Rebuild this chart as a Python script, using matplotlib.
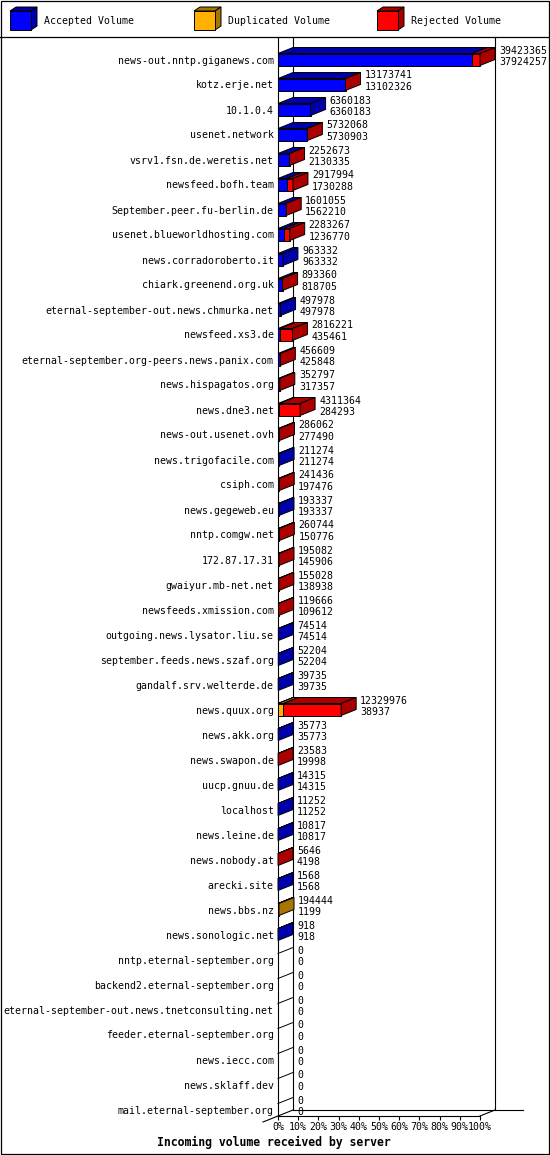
import matplotlib
matplotlib.use('Agg')
import matplotlib.pyplot as plt
from matplotlib.patches import Polygon
import numpy as np

plt.rcParams['font.family'] = 'DejaVu Sans Mono'
plt.rcParams['font.size'] = 7.15

# server names, top to bottom
servers = [
    'news-out.nntp.giganews.com', 'kotz.erje.net', '10.1.0.4', 'usenet.network',
    'vsrv1.fsn.de.weretis.net', 'newsfeed.bofh.team', 'September.peer.fu-berlin.de',
    'usenet.blueworldhosting.com', 'news.corradoroberto.it', 'chiark.greenend.org.uk',
    'eternal-september-out.news.chmurka.net', 'newsfeed.xs3.de',
    'eternal-september.org-peers.news.panix.com', 'news.hispagatos.org', 'news.dne3.net',
    'news-out.usenet.ovh', 'news.trigofacile.com', 'csiph.com', 'news.gegeweb.eu',
    'nntp.comgw.net', '172.87.17.31', 'gwaiyur.mb-net.net', 'newsfeeds.xmission.com',
    'outgoing.news.lysator.liu.se', 'september.feeds.news.szaf.org',
    'gandalf.srv.welterde.de', 'news.quux.org', 'news.akk.org', 'news.swapon.de',
    'uucp.gnuu.de', 'localhost', 'news.leine.de', 'news.nobody.at', 'arecki.site',
    'news.bbs.nz', 'news.sonologic.net', 'nntp.eternal-september.org',
    'backend2.eternal-september.org', 'eternal-september-out.news.tnetconsulting.net',
    'feeder.eternal-september.org', 'news.iecc.com', 'news.sklaff.dev',
    'mail.eternal-september.org',
]
# total offered volume (upper number)
total = [
    39423365, 13173741, 6360183, 5732068, 2252673, 2917994, 1601055, 2283267,
    963332, 893360, 497978, 2816221, 456609, 352797, 4311364, 286062, 211274,
    241436, 193337, 260744, 195082, 155028, 119666, 74514, 52204, 39735,
    12329976, 35773, 23583, 14315, 11252, 10817, 5646, 1568, 194444, 918,
    0, 0, 0, 0, 0, 0, 0,
]
# accepted volume (lower number)
accepted = [
    37924257, 13102326, 6360183, 5730903, 2130335, 1730288, 1562210, 1236770,
    963332, 818705, 497978, 435461, 425848, 317357, 284293, 277490, 211274,
    197476, 193337, 150776, 145906, 138938, 109612, 74514, 52204, 39735,
    38937, 35773, 19998, 14315, 11252, 10817, 4198, 1568, 1199, 918,
    0, 0, 0, 0, 0, 0, 0,
]
# duplicated volume
duplicated = [
    0, 0, 0, 0, 0, 0, 0, 0, 0, 0, 0, 0, 0, 0, 0, 0, 0, 0, 0, 0, 0, 0, 0, 0, 0, 0,
    980000, 0, 0, 0, 0, 0, 0, 0, 193245, 0,
    0, 0, 0, 0, 0, 0, 0,
]
rejected = [t - a - d for t, a, d in zip(total, accepted, duplicated)]

pct_labels = ['%d%%' % p for p in range(0, 101, 10)]

front = {'acc': '#0000ff', 'dup': '#ffb000', 'rej': '#ff0000'}
dark = {'acc': '#0000aa', 'dup': '#aa7400', 'rej': '#aa0000'}

W, H = 550, 1155
fig = plt.figure(figsize=(W / 100, H / 100), dpi=100)
fig.patch.set_facecolor('white')

# overlay in pixel coordinates for frame, legend and title
ov = fig.add_axes([0, 0, 1, 1])
ov.set_xlim(0, W)
ov.set_ylim(H, 0)
ov.axis('off')
ov.add_patch(plt.Rectangle((0.5, 0.5), W - 1.5, H - 1.5, fill=False, ec='black', lw=0.9))
ov.plot([0, W], [36.5, 36.5], color='black', lw=0.9)

legend = [('acc', 'Accepted Volume', 10), ('dup', 'Duplicated Volume', 194), ('rej', 'Rejected Volume', 377)]
for key, txt, x0 in legend:
    ov.add_patch(Polygon([(x0, 11), (x0 + 21, 11), (x0 + 27, 7), (x0 + 6, 7)],
                         closed=True, fc=dark[key], ec='black', lw=0.7))
    ov.add_patch(Polygon([(x0 + 21, 11), (x0 + 21, 30), (x0 + 27, 26), (x0 + 27, 7)],
                         closed=True, fc=dark[key], ec='black', lw=0.7))
    ov.add_patch(plt.Rectangle((x0, 11), 21, 19, fc=front[key], ec='black', lw=0.7))
    ov.text(x0 + 34, 20.5, txt, ha='left', va='center')

ov.text(274, 1142, 'Incoming volume received by server', ha='center', va='center',
        fontweight='bold', fontsize=8.3)

# main chart
vmax = max(total)
px_x = vmax / 202.0      # data units per pixel along x
row = 25.0               # pixels per row
y_top = (37 - 59.5) / row
y_floor = (1116 - 59.5) / row
DX = 15 * px_x
DY = 6 / row
h = 12 / row

ax = fig.add_axes([278 / W, 1 - 1116 / H, 202 / W, (1116 - 37) / H])
ax.set_facecolor('none')
ax.set_xlim(0, vmax)
ax.set_ylim(y_floor, y_top)
for s in ['top', 'right']:
    ax.spines[s].set_visible(False)
for s in ['left', 'bottom']:
    ax.spines[s].set_linewidth(0.8)
    ax.spines[s].set_zorder(1)

ax.set_xticks(np.linspace(0, vmax, 11))
ax.set_xticklabels(pct_labels)
ax.tick_params(axis='x', direction='out', length=3, width=0.8, pad=1.5, labelsize=7.15)
ax.set_yticks(range(len(servers)))
ax.set_yticklabels(servers)
ax.tick_params(axis='y', length=0, pad=3, labelsize=7.15)

# back walls and floor
kw = dict(color='black', lw=0.8, clip_on=False, zorder=0.5)
ax.plot([DX, DX], [y_top, y_floor - DY], **kw)
ax.plot([vmax + DX, vmax + DX], [y_top, y_floor - DY], **kw)
ax.plot([DX, (523 - 278) * px_x], [y_floor - DY, y_floor - DY], **kw)
ax.plot([-DX, DX], [y_floor + DY, y_floor - DY], **kw)
ax.plot([vmax, vmax + DX], [y_floor, y_floor - DY], **kw)

for i in range(len(servers)):
    yt = i - h / 2
    left = 0
    last = None
    for key, v in (('acc', accepted[i]), ('dup', duplicated[i]), ('rej', rejected[i])):
        if v <= 0:
            continue
        ax.barh(i, v, left=left, height=h, color=front[key], edgecolor='black',
                linewidth=0.7, zorder=3, clip_on=False)
        ax.add_patch(Polygon([(left, yt), (left + v, yt), (left + v + DX, yt - DY), (left + DX, yt - DY)],
                             closed=True, fc=dark[key], ec='black', lw=0.7, zorder=3, clip_on=False))
        left += v
        last = key
    if last is not None:
        end = total[i]
        ax.add_patch(Polygon([(end, yt), (end, yt + h), (end + DX, yt + h - DY), (end + DX, yt - DY)],
                             closed=True, fc=dark[last], ec='black', lw=0.7, zorder=4, clip_on=False))
    else:
        ax.plot([0, DX], [yt, yt - DY], color='black', lw=0.7, zorder=3, clip_on=False)
    tx = total[i] + DX + 4 * px_x
    ax.text(tx, i - 9 / row, str(total[i]), ha='left', va='center', clip_on=False, zorder=5)
    ax.text(tx, i + 2.5 / row, str(accepted[i]), ha='left', va='center', clip_on=False, zorder=5)

fig.savefig('out.png', dpi=100)
